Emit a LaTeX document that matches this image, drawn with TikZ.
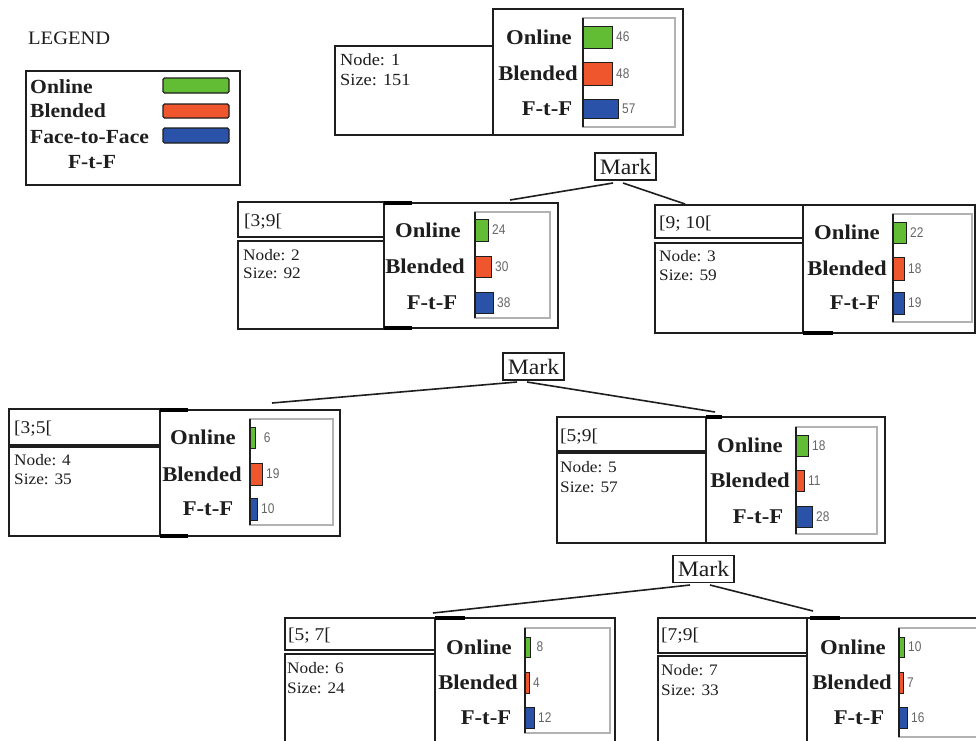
\documentclass[tikz,border=0pt]{standalone}
\usepackage{fontspec}
\setmainfont{Liberation Serif}[FakeStretch=1.08]
\newfontfamily\valfont{Liberation Sans}[FakeStretch=0.85]
\definecolor{cgreen}{RGB}{98,188,52}
\definecolor{cred}{RGB}{240,86,45}
\definecolor{cblue}{RGB}{42,82,168}
\definecolor{ink}{RGB}{30,30,30}
\newcommand{\crow}[9]{%
  \draw[barst, fill=#8] (#4,#5) rectangle (#7,#6);
  \node[lbl] (#1l) at (#3,{(#5+#6)/2}) {#2};
  \node[val] (#1v) at ({#7+4},{(#5+#6)/2}) {#9};
}
\begin{document}
\begin{tikzpicture}[x=1pt,y=-1pt,
  box/.style={draw=ink, line width=1.8pt},
  thickseg/.style={draw=black, line width=3.2pt},
  frame/.style={draw=black!30, line width=1.3pt},
  axis/.style={draw=ink, line width=1.8pt},
  barst/.style={draw=ink, line width=1pt},
  lbl/.style={anchor=center, inner sep=0pt, text depth=0pt, text=ink, font=\bfseries\fontsize{21}{21}\selectfont},
  val/.style={anchor=west, inner sep=0pt, text depth=0pt, text=black!60, font=\valfont\fontsize{14}{14}\selectfont},
  ntxt/.style={anchor=west, inner sep=0pt, text depth=0pt, text=ink, font=\fontsize{16}{16}\selectfont},
  rng/.style={anchor=west, inner sep=0pt, text depth=0pt, text=ink, font=\fontsize{18}{18}\selectfont},
  markbox/.style={draw=ink, line width=1.6pt, minimum width=61pt, minimum height=27pt, inner sep=0pt, text=ink, font=\fontsize{22}{22}\selectfont},
  conn/.style={draw=ink, line width=1.6pt},
  leg/.style={anchor=west, inner sep=0pt, text depth=0pt, text=ink, font=\bfseries\fontsize{20}{20}\selectfont},
  legbar/.style={draw=ink, line width=1.3pt, rounded corners=1.5pt},
]
\path[use as bounding box, fill=white] (0,0) rectangle (976,740);
\clip (0,0) rectangle (976,740);

% ---------------- legend
\node[anchor=west, inner sep=0pt, text depth=0pt, text=ink, font=\fontsize{19}{19}\selectfont] (legtitle) at (28,38) {LEGEND};
\draw[box] (26,71) rectangle (240,185);
\node[leg] (legon) at (30,87) {Online};
\node[leg] (legbl) at (30,111) {Blended};
\node[leg] (legff) at (30,137) {Face-to-Face};
\node[leg, anchor=center] (legftf) at (92,162) {F-t-F};
\draw[legbar, fill=cgreen] (163,78) rectangle (229,93);
\draw[legbar, fill=cred] (163,104) rectangle (229,118);
\draw[legbar, fill=cblue] (163,128) rectangle (229,143);

% ---------------- node 1
\draw[box] (335,46) rectangle (493,135);
\draw[box] (493,9) rectangle (683,135);
\node[ntxt, font=\fontsize{17}{17}\selectfont] (n1id) at (340,60) {Node: 1};
\node[ntxt, font=\fontsize{17}{17}\selectfont] (n1sz) at (340,80) {Size: 151};
\draw[frame] (583,18) rectangle (675,127);
\crow{n1a}{Online}{539}{583}{26}{48}{612}{cgreen}{46}
\crow{n1b}{Blended}{538}{583}{62}{85}{612}{cred}{48}
\crow{n1c}{F-t-F}{547}{583}{99}{118}{618}{cblue}{57}
\draw[axis] (583,18) -- (583,127);

% ---------------- mark 1
\node[markbox] (m1) at (625.5,166.5) {Mark};
\coordinate (m1l) at (613,183);
\coordinate (m1r) at (623,183);
\coordinate (n2in) at (510,200);
\coordinate (n3in) at (685,204);
\draw[conn] (m1l) -- (n2in);
\draw[conn] (m1r) -- (n3in);

% ---------------- node 2
\draw[box] (238,202) rectangle (384,237);
\draw[box] (238,241) rectangle (384,329);
\draw[box] (384,203) rectangle (558,328);
\draw[thickseg] (384,203) -- (412,203);
\draw[thickseg] (384,328) -- (412,328);
\node[rng] (n2r) at (244,220) {[3;9[};
\node[ntxt] (n2id) at (243,255) {Node: 2};
\node[ntxt] (n2sz) at (243,273) {Size: 92};
\draw[frame] (475,212) rectangle (550,318);
\crow{n2a}{Online}{428}{475}{219}{241}{488}{cgreen}{24}
\crow{n2b}{Blended}{425}{475}{256}{277}{491}{cred}{30}
\crow{n2c}{F-t-F}{432}{475}{292}{313}{493}{cblue}{38}
\draw[axis] (475,212) -- (475,318);

% ---------------- node 3
\draw[box] (655,205) rectangle (803,238);
\draw[box] (655,243) rectangle (803,333);
\draw[box] (803,205) rectangle (975,333);
\draw[thickseg] (803,333) -- (833,333);
\node[rng] (n3r) at (659,222) {[9; 10[};
\node[ntxt] (n3id) at (659,256) {Node: 3};
\node[ntxt] (n3sz) at (659,275) {Size: 59};
\draw[frame] (893,214) rectangle (972,322);
\crow{n3a}{Online}{847}{893}{222}{243}{906}{cgreen}{22}
\crow{n3b}{Blended}{847}{893}{257}{280}{904}{cred}{18}
\crow{n3c}{F-t-F}{855}{893}{292}{314}{904}{cblue}{19}
\draw[axis] (893,214) -- (893,322);

% ---------------- mark 2
\node[markbox] (m2) at (533.5,366.5) {Mark};
\coordinate (m2l) at (517,382);
\coordinate (m2r) at (527,382);
\coordinate (n4in) at (272,403);
\coordinate (n5in) at (715,412);
\draw[conn] (m2l) -- (n4in);
\draw[conn] (m2r) -- (n5in);

% ---------------- node 4
\draw[box] (9,409) rectangle (160,445);
\draw[box] (9,447) rectangle (160,536);
\draw[box] (160,410) rectangle (340,536);
\draw[thickseg] (160,410) -- (188,410);
\draw[thickseg] (160,536) -- (188,536);
\node[rng] (n4r) at (14,427) {[3;5[};
\node[ntxt] (n4id) at (14,460) {Node: 4};
\node[ntxt] (n4sz) at (14,479) {Size: 35};
\draw[frame] (250,419) rectangle (333,525);
\crow{n4a}{Online}{203}{250}{427}{448}{255}{cgreen}{\,\,6}
\crow{n4b}{Blended}{202}{250}{463}{485}{262}{cred}{19}
\crow{n4c}{F-t-F}{208}{250}{498}{520}{257}{cblue}{10}
\draw[axis] (250,419) -- (250,525);

% ---------------- node 5
\draw[box] (557,417) rectangle (706,451);
\draw[box] (557,453) rectangle (706,543);
\draw[box] (706,417) rectangle (885,543);
\draw[thickseg] (706,417) -- (722,417);
\node[rng] (n5r) at (560,435) {[5;9[};
\node[ntxt] (n5id) at (560,467) {Node: 5};
\node[ntxt] (n5sz) at (560,487) {Size: 57};
\draw[frame] (796,427) rectangle (877,534);
\crow{n5a}{Online}{750}{796}{435}{456}{808}{cgreen}{18}
\crow{n5b}{Blended}{750}{796}{470}{491}{804}{cred}{11}
\crow{n5c}{F-t-F}{758}{796}{506}{527}{812}{cblue}{28}
\draw[axis] (796,427) -- (796,534);

% ---------------- mark 3
\node[markbox] (m3) at (703.5,569) {Mark};
\coordinate (m3l) at (690,585);
\coordinate (m3r) at (710,585);
\coordinate (n6in) at (433,613);
\coordinate (n7in) at (813,611);
\draw[conn] (m3l) -- (n6in);
\draw[conn] (m3r) -- (n7in);

% ---------------- node 6
\draw[box] (285,618) rectangle (435,650);
\draw[box] (285,654) rectangle (435,760);
\draw[box] (435,618) rectangle (615,760);
\draw[thickseg] (435,618) -- (465,618);
\node[rng] (n6r) at (288,634) {[5; 7[};
\node[ntxt] (n6id) at (287,668) {Node: 6};
\node[ntxt] (n6sz) at (287,688) {Size: 24};
\draw[frame] (525,628) rectangle (610,733);
\crow{n6a}{Online}{479}{525}{637}{657}{530}{cgreen}{\,8}
\crow{n6b}{Blended}{478}{525}{672}{693}{529}{cred}{4}
\crow{n6c}{F-t-F}{486}{525}{707}{728}{534}{cblue}{12}
\draw[axis] (525,628) -- (525,733);

% ---------------- node 7
\draw[box] (658,618) rectangle (807,653);
\draw[box] (658,656) rectangle (807,760);
\draw[box] (807,618) rectangle (990,760);
\draw[thickseg] (810,618) -- (840,618);
\node[rng] (n7r) at (661,634) {[7;9[};
\node[ntxt] (n7id) at (661,670) {Node: 7};
\node[ntxt] (n7sz) at (661,690) {Size: 33};
\draw[frame] (899,628) rectangle (990,737);
\crow{n7a}{Online}{853}{899}{637}{657}{904}{cgreen}{10}
\crow{n7b}{Blended}{852}{899}{672}{693}{903}{cred}{7}
\crow{n7c}{F-t-F}{859}{899}{707}{728}{907}{cblue}{16}
\draw[axis] (899,628) -- (899,737);
\end{tikzpicture}
\end{document}
